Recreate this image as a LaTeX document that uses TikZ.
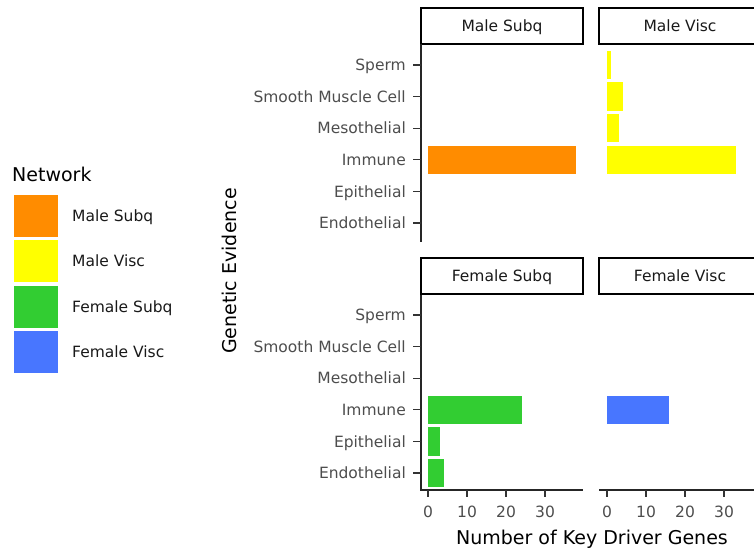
\documentclass[tikz,border=0pt]{standalone}
\usepackage{fontspec}
\setmainfont{DejaVu Sans}
\definecolor{malesubq}{HTML}{FF8C00}
\definecolor{malevisc}{HTML}{FFFF00}
\definecolor{femalesubq}{HTML}{32CD32}
\definecolor{femalevisc}{HTML}{4876FF}
\definecolor{tickgray}{HTML}{4D4D4D}
\begin{document}
\begin{tikzpicture}[x=1pt,y=-1pt,line cap=butt,
  ticklabel/.style={font=\fontsize{15.5}{18}\selectfont,text=tickgray,inner sep=0pt},
  striplabel/.style={font=\fontsize{15.5}{18}\selectfont,text=black!90,inner sep=0pt},
  keylabel/.style={font=\fontsize{15.5}{18}\selectfont,text=black!90,inner sep=0pt,anchor=base west},
  axistitle/.style={font=\fontsize{19}{22}\selectfont,inner sep=0pt,anchor=base},
  striprect/.style={draw=black,line width=2pt},
  axisline/.style={draw=black!85,line width=1.3pt},
  tickmark/.style={draw=black!80,line width=1.2pt}]
  \useasboundingbox (0,0) rectangle (754,550);
  \clip (0,0) rectangle (754,550);
  % panel corners
  \coordinate (TL) at (421,44);
  \coordinate (TLb) at (421,242);
  \coordinate (BL) at (421,295);
  \coordinate (BLb) at (421,490);
  \coordinate (BLr) at (583,490);
  \coordinate (BRl) at (599,490);
  \coordinate (BRr) at (761,490);
  % strips
  \draw[striprect] (421,8) rectangle (583,44);
  \draw[striprect] (599,8) rectangle (761,44);
  \draw[striprect] (421,258) rectangle (583,294);
  \draw[striprect] (599,258) rectangle (761,294);
  \node[striplabel,anchor=base] (s-msubq) at (502,31.6) {Male Subq};
  \node[striplabel,anchor=base] (s-mvisc) at (680,31.6) {Male Visc};
  \node[striplabel,anchor=base] (s-fsubq) at (502,281.6) {Female Subq};
  \node[striplabel,anchor=base] (s-fvisc) at (680,281.6) {Female Visc};
  % bars, male
  \fill[malesubq] (428,145.6) rectangle (576.2,174);
  \fill[malevisc] (607,50.8) rectangle (610.9,79.2);
  \fill[malevisc] (607,82.4) rectangle (622.6,110.8);
  \fill[malevisc] (607,114) rectangle (618.7,142.4);
  \fill[malevisc] (607,145.6) rectangle (735.7,174);
  % bars, female
  \fill[femalesubq] (428,395.6) rectangle (521.6,424);
  \fill[femalesubq] (428,427.2) rectangle (439.7,455.6);
  \fill[femalesubq] (428,458.8) rectangle (443.6,487.2);
  \fill[femalevisc] (607,395.6) rectangle (669.4,424);
  % axes
  \draw[axisline] (TL) -- (TLb);
  \draw[axisline,line join=miter] (BL) -- (BLb) -- (BLr);
  \draw[axisline] (BRl) -- (BRr);
  \draw[tickmark] (413,65) -- (421,65) (413,96.6) -- (421,96.6) (413,128.2) -- (421,128.2)
    (413,159.8) -- (421,159.8) (413,191.4) -- (421,191.4) (413,223) -- (421,223);
  \draw[tickmark] (413,315) -- (421,315) (413,346.6) -- (421,346.6) (413,378.2) -- (421,378.2)
    (413,409.8) -- (421,409.8) (413,441.4) -- (421,441.4) (413,473) -- (421,473);
  \draw[tickmark] (428,490) -- (428,497) (467,490) -- (467,497) (506,490) -- (506,497) (545,490) -- (545,497);
  \draw[tickmark] (607,490) -- (607,497) (646,490) -- (646,497) (685,490) -- (685,497) (724,490) -- (724,497);
  % y tick labels, top
  \node[ticklabel,anchor=base east] (t-sperm) at (406,70.6) {Sperm};
  \node[ticklabel,anchor=base east] (t-smooth) at (406,102.2) {Smooth Muscle Cell};
  \node[ticklabel,anchor=base east] (t-meso) at (406,133.8) {Mesothelial};
  \node[ticklabel,anchor=base east] (t-immune) at (406,165.4) {Immune};
  \node[ticklabel,anchor=base east] (t-epi) at (406,197) {Epithelial};
  \node[ticklabel,anchor=base east] (t-endo) at (406,228.6) {Endothelial};
  % y tick labels, bottom
  \node[ticklabel,anchor=base east] (b-sperm) at (406,320.6) {Sperm};
  \node[ticklabel,anchor=base east] (b-smooth) at (406,352.2) {Smooth Muscle Cell};
  \node[ticklabel,anchor=base east] (b-meso) at (406,383.8) {Mesothelial};
  \node[ticklabel,anchor=base east] (b-immune) at (406,415.4) {Immune};
  \node[ticklabel,anchor=base east] (b-epi) at (406,447) {Epithelial};
  \node[ticklabel,anchor=base east] (b-endo) at (406,478.6) {Endothelial};
  % x tick labels
  \node[ticklabel,anchor=base] (xl-0) at (428,517.6) {0};
  \node[ticklabel,anchor=base] (xl-10) at (467,517.6) {10};
  \node[ticklabel,anchor=base] (xl-20) at (506,517.6) {20};
  \node[ticklabel,anchor=base] (xl-30) at (545,517.6) {30};
  \node[ticklabel,anchor=base] (xr-0) at (607,517.6) {0};
  \node[ticklabel,anchor=base] (xr-10) at (646,517.6) {10};
  \node[ticklabel,anchor=base] (xr-20) at (685,517.6) {20};
  \node[ticklabel,anchor=base] (xr-30) at (724,517.6) {30};
  % axis titles
  \node[axistitle] (xtitle) at (592,544) {Number of Key Driver Genes};
  \node[axistitle,rotate=90] (ytitle) at (236,271) {Genetic Evidence};
  % legend
  \node[axistitle,anchor=base west] (legtitle) at (12,181) {Network};
  \fill[malesubq] (14,195) rectangle (58,237);
  \fill[malevisc] (14,240) rectangle (58,282);
  \fill[femalesubq] (14,286) rectangle (58,328);
  \fill[femalevisc] (14,331) rectangle (58,373);
  \node[keylabel] (k-msubq) at (72,221.6) {Male Subq};
  \node[keylabel] (k-mvisc) at (72,266.6) {Male Visc};
  \node[keylabel] (k-fsubq) at (72,312.6) {Female Subq};
  \node[keylabel] (k-fvisc) at (72,357.6) {Female Visc};
\end{tikzpicture}
\end{document}
